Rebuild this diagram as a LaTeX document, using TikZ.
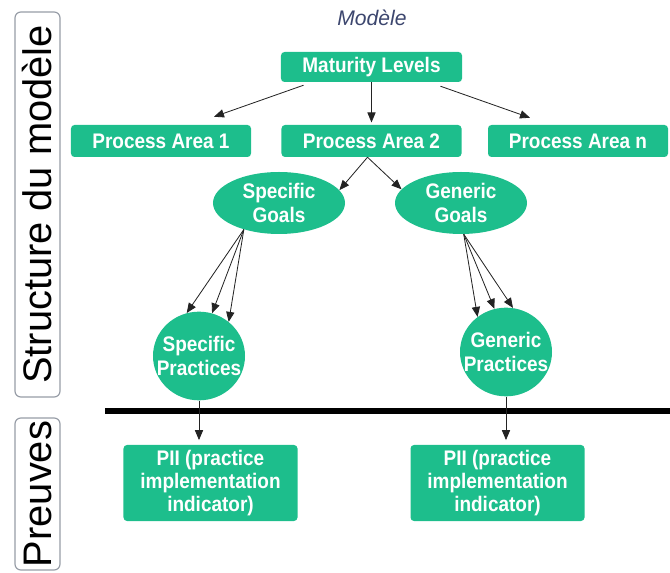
\documentclass[tikz,border=0pt]{standalone}
\usepackage{fontspec}
\setmainfont{Liberation Sans}
\newfontfamily\boxfont[FakeStretch=0.9]{Liberation Sans}
\usepackage{xcolor}
\usepackage{tikz}
\usetikzlibrary{shapes.geometric, arrows.meta, positioning, calc}
\definecolor{cmmigreen}{RGB}{29, 190, 140}
\definecolor{arrowgray}{RGB}{35, 35, 35}
\definecolor{framegray}{RGB}{150, 156, 166}
\definecolor{titleblue}{RGB}{60, 70, 110}

\begin{document}
\begin{tikzpicture}[
    x=0.03cm, y=-0.03cm,
    greenbox/.style={rectangle, fill=cmmigreen, text=white, rounded corners=3pt,
                minimum width=5.4cm, minimum height=0.96cm, inner sep=0pt,
                align=center, font=\boxfont\bfseries\fontsize{18}{19.8}\selectfont},
    goal/.style={ellipse, fill=cmmigreen, text=white, inner sep=0pt,
                minimum width=3.96cm, minimum height=1.86cm,
                align=center, font=\boxfont\bfseries\fontsize{18}{19.8}\selectfont},
    practice/.style={goal, inner xsep=-9pt, minimum width=2.76cm, minimum height=2.66cm},
    piibox/.style={greenbox, minimum width=5.22cm, minimum height=2.28cm},
    sidebox/.style={rectangle, draw=framegray, line width=1pt, rounded corners=5pt,
                rotate=90, minimum height=1.35cm, inner sep=0pt,
                font=\fontsize{34}{37}\selectfont},
    arrow/.style={-{Triangle[length=8.5pt, width=7pt]}, line width=0.7pt, color=arrowgray},
    sepline/.style={line width=5pt, black}
]
\useasboundingbox (0,0) rectangle (670,573);

% side labels
\node[sidebox, minimum width=11.55cm] (struct) at (37.5,204.5) {Structure du modèle};
\node[sidebox, minimum width=4.56cm] (proof) at (37.5,494) {Preuves};

\node[font=\itshape\fontsize{18}{20}\selectfont, text=titleblue] (title) at (372,18) {Modèle};

% model structure
\node[greenbox, minimum width=5.43cm, minimum height=0.9cm] (ml) at (371.5,67) {Maturity Levels};
\node[greenbox] (pa1) at (161,141) {Process Area 1};
\node[greenbox] (pa2) at (371.5,141) {Process Area 2};
\node[greenbox] (pan) at (578,141) {Process Area n};

\node[goal] (sg) at (279,203) {Specific\\Goals};
\node[goal] (gg) at (461,203) {Generic\\Goals};

\node[practice] (sp) at (199,356) {Specific\\Practices};
\node[practice] (gp) at (506,352) {Generic\\Practices};

% evidence
\node[piibox] (pii1) at (210.5,483) {PII (practice\\implementation\\indicator)};
\node[piibox] (pii2) at (497.5,483) {PII (practice\\implementation\\indicator)};

\draw[arrow] ($(ml.south)+(-68,3)$) -- ($(pa1.north)+(53,-8)$);
\draw[arrow, shorten >=2pt] (ml.south) -- (pa2.north);
\draw[arrow] ($(ml.south)+(69,4)$) -- ($(pan.north)+(-48,-7)$);

\draw[arrow] ($(pa2.south)+(-4,0)$) -- (sg.12);
\draw[arrow] ($(pa2.south)+(-4,0)$) -- (gg.167);

\draw[arrow] (sg.-143) -- (sp.106);
\draw[arrow] (sg.-143) -- (sp.73);
\draw[arrow] (sg.-143) -- (sp.49);
\draw[arrow] (gg.-85) -- (gp.129);
\draw[arrow] (gg.-85) -- (gp.105);
\draw[arrow] (gg.-85) -- (gp.81);

\draw[sepline] (105,411) -- (670,411);

\draw[arrow, shorten >=4pt] (sp.south) -- (sp.south |- pii1.north);
\draw[arrow, shorten >=4pt] (gp.south) -- (gp.south |- pii2.north);

\end{tikzpicture}
\end{document}
